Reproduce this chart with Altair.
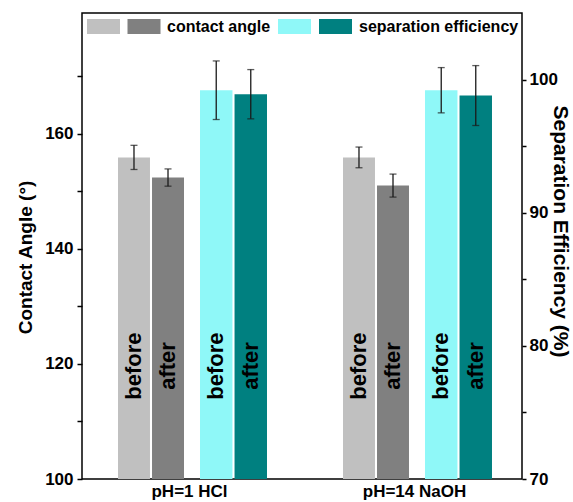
import altair as alt
import pandas as pd

# ---------------- data ----------------
groups = ["pH=1 HCl", "pH=14 NaOH"]
stages = ["before", "after"]

ca_before = [155.9, 155.9]
ca_before_err = [2.1, 1.8]
ca_after = [152.4, 151.0]
ca_after_err = [1.5, 2.0]

se_before = [99.2, 99.2]
se_before_err = [2.2, 1.7]
se_after = [98.9, 98.8]
se_after_err = [1.85, 2.25]

ca_ticks = [100, 110, 120, 130, 140, 150, 160, 170]
se_ticks = [70, 75, 80, 85, 90, 95, 100]

legend_labels = ["contact angle", "separation efficiency"]
ca_colors = ["#c0c0c0", "#808080"]
se_colors = ["#8ff8f8", "#008080"]


def frame(before, before_err, after, after_err):
    rows = []
    for i, g in enumerate(groups):
        for stage, v, e in (("before", before[i], before_err[i]),
                            ("after", after[i], after_err[i])):
            rows.append({"group": g, "stage": stage, "value": v,
                         "lo": v - e, "hi": v + e})
    return pd.DataFrame(rows)


ca = frame(ca_before, ca_before_err, ca_after, ca_after_err)
se = frame(se_before, se_before_err, se_after, se_after_err)

FONT = "Liberation Sans"

x_enc = alt.X(
    "group:N", sort=groups,
    scale=alt.Scale(paddingInner=0.3644, paddingOuter=0.16),
    axis=alt.Axis(title=None, labelAngle=0, ticks=False, domain=False,
                  labelFontSize=17, labelFontWeight="bold", labelFont=FONT,
                  labelColor="black", labelPadding=4),
)


def y_axis(title, orient, values, mod, tick, pad, tsize, tx, ty):
    return alt.Axis(
        title=title, orient=orient, values=values,
        labelExpr=f"datum.value % {mod} == 0 ? datum.label : ''",
        tickSize=tick, tickWidth=1.5, tickColor="black", domain=False, grid=False,
        labelFontSize=17, labelFontWeight="bold", labelFont=FONT, labelColor="black",
        labelPadding=pad, labelFlush=False, labelOverlap=False,
        titleFontSize=tsize, titleFontWeight="bold", titleFont=FONT,
        titleColor="black", titleX=tx, titleY=ty, titleBaseline="middle",
        titleAlign="center",
    )


def build(df, domain, axis, offset_range, colors):
    yscale = alt.Scale(domain=domain, zero=False, nice=False)
    xoff = alt.XOffset("stage:N", sort=stages,
                       scale=alt.Scale(range=offset_range, paddingInner=0.06,
                                       paddingOuter=0))
    base = alt.Chart(df)
    bars = base.mark_bar().encode(
        x=x_enc, xOffset=xoff,
        y=alt.Y("value:Q", scale=yscale, axis=axis),
        y2=alt.datum(domain[0]),
        color=alt.Color("stage:N", scale=alt.Scale(domain=stages, range=colors),
                        legend=None),
    )
    rules = base.mark_rule(color="#1a1a1a", strokeWidth=1.3).encode(
        x=x_enc, xOffset=xoff,
        y=alt.Y("lo:Q", scale=yscale, axis=axis), y2="hi:Q",
    )
    cap_lo = base.mark_tick(color="#1a1a1a", thickness=1.3, size=7,
                            orient="horizontal").encode(
        x=x_enc, xOffset=xoff, y=alt.Y("lo:Q", scale=yscale, axis=axis))
    cap_hi = base.mark_tick(color="#1a1a1a", thickness=1.3, size=7,
                            orient="horizontal").encode(
        x=x_enc, xOffset=xoff, y=alt.Y("hi:Q", scale=yscale, axis=axis))
    text = base.mark_text(angle=270, fontSize=22, fontWeight="bold", font=FONT,
                          color="black", align="center", baseline="middle").encode(
        x=x_enc, xOffset=xoff, y=alt.value(353), text="stage:N")
    return alt.layer(bars, rules, cap_lo, cap_hi, text)


ca_axis = y_axis("Contact Angle (°)", "left", ca_ticks, 20, 5, 4, 19, -57, 244)
se_axis = y_axis("Separation Efficiency (%)", "right", se_ticks, 10, 4, 3, 21, 37, 218)

ca_layer = build(ca, [100, 181], ca_axis, [0, 66], ca_colors)
se_layer = build(se, [70, 105], se_axis, [82, 149], se_colors)

# ---------------- custom legend ----------------
one = pd.DataFrame({"k": [0]})


def swatch(color, x1, x2):
    return alt.Chart(one).mark_rect(color=color).encode(
        x=alt.value(x1), x2=alt.value(x2), y=alt.value(6), y2=alt.value(21))


def ltext(label, x):
    return alt.Chart(pd.DataFrame({"label": [label]})).mark_text(
        align="left", baseline="middle", fontSize=16, fontWeight="bold",
        font=FONT, color="black").encode(
        x=alt.value(x), y=alt.value(13.5), text="label:N")


legend = alt.layer(
    swatch(ca_colors[0], 5, 38), swatch(ca_colors[1], 45.5, 78.5),
    ltext(legend_labels[0], 85),
    swatch(se_colors[0], 196, 229), swatch(se_colors[1], 237, 270),
    ltext(legend_labels[1], 277),
)

chart = alt.layer(ca_layer, se_layer, legend).resolve_scale(
    y="independent", xOffset="independent", color="independent"
).properties(
    width=440, height=466,
    autosize=alt.AutoSizeParams(type="none"),
    padding={"left": 82, "top": 13, "right": 51, "bottom": 23},
).configure_view(stroke="black", strokeWidth=1.5)

chart.save("out.html", embed_options={"renderer": "svg", "actions": False})
